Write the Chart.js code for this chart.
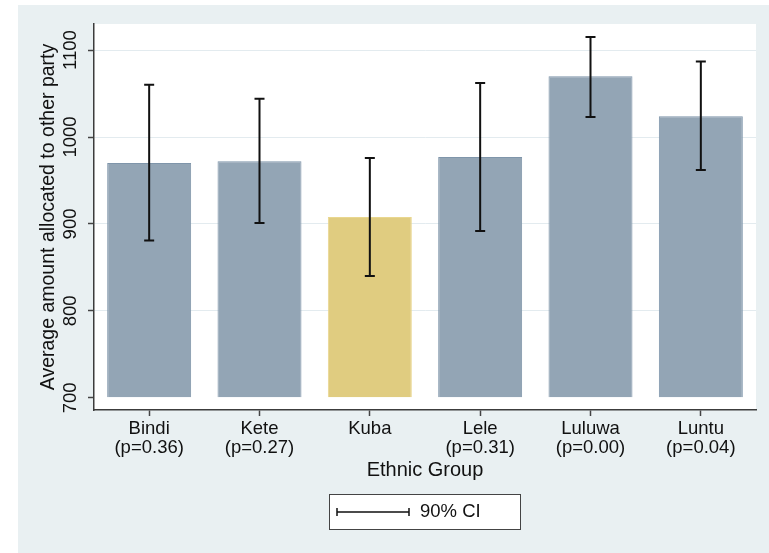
<!DOCTYPE html>
<html><head><meta charset="utf-8">
<script src="https://cdn.jsdelivr.net/npm/chart.js@4/dist/chart.umd.min.js"></script>
<style>html,body{margin:0;padding:0;background:#fff}#wrap{width:769px;height:553px}</style>
</head><body><div id="wrap"><canvas id="c" width="769" height="553"></canvas></div>
<script>
// ---- data ----
const categories = [["Bindi","(p=0.36)"],["Kete","(p=0.27)"],["Kuba"],["Lele","(p=0.31)"],["Luluwa","(p=0.00)"],["Luntu","(p=0.04)"]];
const means  = [970, 972, 908, 977, 1070, 1024];
const ciLow  = [881, 901, 840, 892, 1023, 962];
const ciHigh = [1060, 1044, 976, 1062, 1115, 1087];
const yTicks = [700, 800, 900, 1000, 1100];
const yTitle = "Average amount allocated to other party";
const xTitle = "Ethnic Group";
const legendLabel = "90% CI";
const highlight = "Kuba";

const FONT = "'Liberation Sans', Arial, Helvetica, sans-serif";
const GRAY = '#93a5b5', GRAY_B = '#7f95aa', YEL = '#e0cc80', YEL_B = '#e9d78f';
const isHi = categories.map(c => c[0] === highlight);

const bgPlugin = {
  id: 'bg',
  beforeDraw(chart) {
    const {ctx, chartArea: a} = chart;
    ctx.save();
    ctx.fillStyle = '#ffffff';
    ctx.fillRect(0, 0, chart.width, chart.height);
    ctx.fillStyle = '#e9f0f2';
    ctx.fillRect(18, 5, chart.width - 18, chart.height - 5);
    ctx.fillStyle = '#ffffff';
    ctx.fillRect(a.left, a.top, a.right - a.left, a.bottom - a.top);
    ctx.restore();
  }
};

const errPlugin = {
  id: 'err',
  afterDatasetsDraw(chart) {
    const {ctx} = chart;
    const meta = chart.getDatasetMeta(0);
    const ys = chart.scales.y;
    ctx.save();
    ctx.strokeStyle = '#111';
    ctx.lineWidth = 2;
    meta.data.forEach((bar, i) => {
      const x = bar.x;
      const y1 = ys.getPixelForValue(ciHigh[i]);
      const y2 = ys.getPixelForValue(ciLow[i]);
      ctx.beginPath();
      ctx.moveTo(x, y1); ctx.lineTo(x, y2);
      ctx.moveTo(x - 5, y1); ctx.lineTo(x + 5, y1);
      ctx.moveTo(x - 5, y2); ctx.lineTo(x + 5, y2);
      ctx.stroke();
    });
    ctx.restore();
  },
  afterDraw(chart) {
    const {ctx} = chart;
    const ys = chart.scales.y;
    ctx.save();
    // rotated y tick labels
    ctx.fillStyle = '#111';
    ctx.font = '18.5px ' + FONT;
    ctx.textAlign = 'center';
    ctx.textBaseline = 'middle';
    yTicks.forEach(v => {
      const y = ys.getPixelForValue(v);
      ctx.save();
      ctx.translate(71, y);
      ctx.rotate(-Math.PI / 2);
      ctx.fillText(String(v), 0, 0);
      ctx.restore();
    });
    // legend box
    ctx.fillStyle = '#ffffff';
    ctx.fillRect(329, 494, 191, 35);
    ctx.strokeStyle = '#444';
    ctx.lineWidth = 1;
    ctx.strokeRect(329.5, 494.5, 191, 35);
    ctx.strokeStyle = '#111';
    ctx.lineWidth = 1.5;
    ctx.beginPath();
    ctx.moveTo(337, 512); ctx.lineTo(409, 512);
    ctx.moveTo(337, 508); ctx.lineTo(337, 516);
    ctx.moveTo(409, 508); ctx.lineTo(409, 516);
    ctx.stroke();
    ctx.fillStyle = '#111';
    ctx.textAlign = 'left';
    ctx.fillText(legendLabel, 420, 512);
    ctx.restore();
  }
};

new Chart(document.getElementById('c'), {
  type: 'bar',
  data: {
    labels: categories,
    datasets: [{
      label: legendLabel,
      data: means,
      base: 700,
      backgroundColor: isHi.map(h => h ? YEL : GRAY),
      borderColor: isHi.map(h => h ? YEL_B : GRAY_B),
      borderWidth: 1,
      barPercentage: 0.761,
      categoryPercentage: 1.0
    }]
  },
  options: {
    responsive: false,
    animation: false,
    devicePixelRatio: 1,
    layout: {padding: {left: 0, top: 24, right: 13, bottom: 71}},
    plugins: {legend: {display: false}, tooltip: {enabled: false}},
    scales: {
      x: {
        type: 'category',
        offset: true,
        grid: {display: true, drawOnChartArea: false, drawTicks: true, tickLength: 6, offset: false, tickColor: '#444', tickWidth: 1.5},
        border: {display: true, color: '#3c3c3c', width: 1.5},
        ticks: {color: '#111', font: {family: FONT, size: 18.5, lineHeight: 1.0}, padding: 4, maxRotation: 0, minRotation: 0, autoSkip: false},
        title: {display: true, text: xTitle, color: '#111', font: {family: FONT, size: 20, lineHeight: 1.2}, padding: {top: 0, bottom: 0}},
        afterFit: s => { s.height = 72; }
      },
      y: {
        min: 686, max: 1130,
        afterBuildTicks: s => { s.ticks = yTicks.map(v => ({value: v})); },
        grid: {
          color: ctx => (ctx.tick && ctx.tick.value === 700) ? 'rgba(0,0,0,0)' : '#e3ebef',
          lineWidth: 1, tickColor: '#444', tickLength: 6, tickWidth: 1.5, drawTicks: true
        },
        border: {display: true, color: '#3c3c3c', width: 1.5},
        ticks: {display: false},
        title: {display: true, text: yTitle, color: '#111', font: {family: FONT, size: 19.5, lineHeight: 1.2}, padding: {top: 37, bottom: 0}},
        afterFit: s => { s.width = 94; }
      }
    }
  },
  plugins: [bgPlugin, errPlugin]
});
</script>
</body></html>
